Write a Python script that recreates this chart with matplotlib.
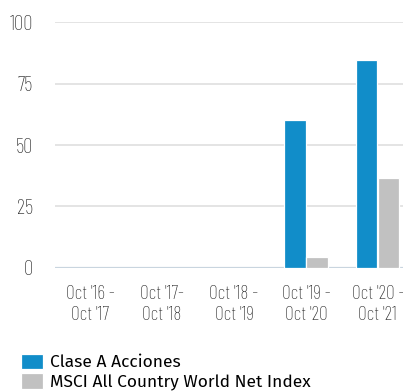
import numpy as np
import matplotlib.pyplot as plt

# annual returns, % (no data for the first three periods)
periods = ["Oct '16 -\nOct '17", "Oct '17-\nOct '18", "Oct '18 -\nOct '19",
           "Oct '19 -\nOct '20", "Oct '20 -\nOct '21"]
clase_a = [np.nan, np.nan, np.nan, 60.3, 84.4]
msci_acwi = [np.nan, np.nan, np.nan, 4.6, 36.7]
series_names = ["Clase A Acciones", "MSCI All Country World Net Index"]

blue = '#118dc9'
grey = '#c1c1c1'
tick_font = ['Barlow Condensed', 'Roboto Condensed', 'DejaVu Sans']
legend_font = ['Fira Sans', 'Open Sans', 'DejaVu Sans']

fig = plt.figure(figsize=(4.03, 3.91), dpi=100)
ax = fig.add_axes([0.1365, 0.3146, 0.8635, 0.6291])

x = np.arange(len(periods))
w = 0.295
off = 0.153
b1 = ax.bar(x - off, clase_a, w, color=blue, edgecolor='white', linewidth=0.9, zorder=3)
b2 = ax.bar(x + off, msci_acwi, w, color=grey, edgecolor='white', linewidth=0.9, zorder=3)

ax.set_ylim(0, 100)
ax.set_xlim(-0.49, 4.35)
ax.set_yticks([0, 25, 50, 75, 100])
ax.set_xticks(x)
ax.set_xticklabels(periods, family=tick_font, weight='light', fontsize=14,
                   color='#262626', linespacing=1.25)
for lbl in ax.get_yticklabels():
    lbl.set_family(tick_font)
    lbl.set_weight('light')
    lbl.set_fontsize(15)
    lbl.set_color('#262626')

ax.grid(axis='y', color='#e2e2e2', linewidth=1.3, zorder=0)
ax.axhline(0, color='#c9d5df', linewidth=1.6, zorder=2)
ax.tick_params(length=0)
ax.tick_params(axis='y', pad=16)
ax.tick_params(axis='x', pad=12)
for s in ax.spines.values():
    s.set_visible(False)

fig.legend([b1, b2], series_names, loc='upper left', bbox_to_anchor=(0.052, 0.095),
           frameon=False, handlelength=1.26, handleheight=0.98,
           handletextpad=0.4, labelspacing=0.15, borderaxespad=0, borderpad=0,
           prop={'family': legend_font, 'size': 12.5})

fig.savefig('out.png', dpi=100)
